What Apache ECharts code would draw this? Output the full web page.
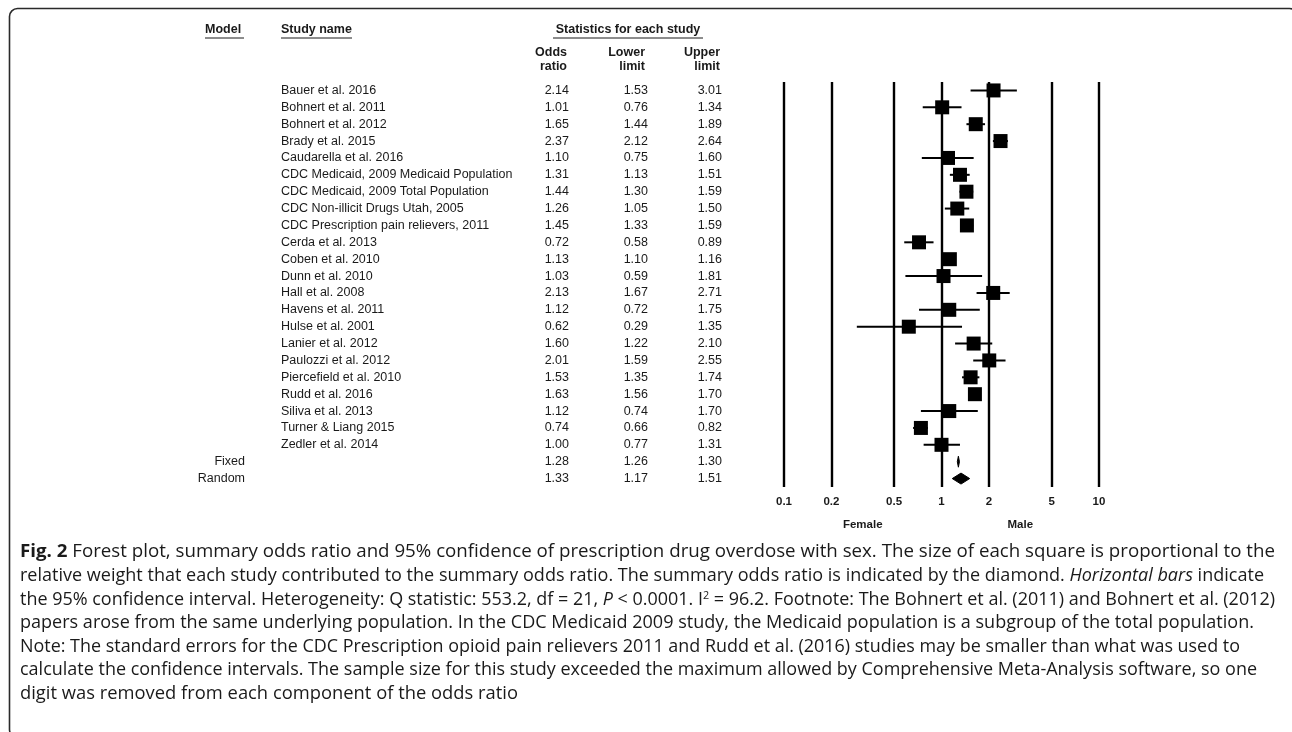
<!DOCTYPE html>
<html>
<head>
<meta charset="utf-8">
<script src="https://cdn.jsdelivr.net/npm/echarts@6/dist/echarts.min.js"></script>
<style>
  html, body { margin: 0; padding: 0; background: #fff; }
  #chart { width: 1292px; height: 732px; }
</style>
</head>
<body>
<div id="chart"></div>
<script>
// Study-level odds ratios (male vs female) with 95% confidence limits
const studies = [
  'Bauer et al. 2016',
  'Bohnert et al. 2011',
  'Bohnert et al. 2012',
  'Brady et al. 2015',
  'Caudarella et al. 2016',
  'CDC Medicaid, 2009 Medicaid Population',
  'CDC Medicaid, 2009 Total Population',
  'CDC Non-illicit Drugs Utah, 2005',
  'CDC Prescription pain relievers, 2011',
  'Cerda et al. 2013',
  'Coben et al. 2010',
  'Dunn et al. 2010',
  'Hall et al. 2008',
  'Havens et al. 2011',
  'Hulse et al. 2001',
  'Lanier et al. 2012',
  'Paulozzi et al. 2012',
  'Piercefield et al. 2010',
  'Rudd et al. 2016',
  'Siliva et al. 2013',
  'Turner & Liang 2015',
  'Zedler et al. 2014'
];
const oddsRatio  = [2.14, 1.01, 1.65, 2.37, 1.10, 1.31, 1.44, 1.26, 1.45, 0.72, 1.13, 1.03, 2.13, 1.12, 0.62, 1.60, 2.01, 1.53, 1.63, 1.12, 0.74, 1.00];
const lowerLimit = [1.53, 0.76, 1.44, 2.12, 0.75, 1.13, 1.30, 1.05, 1.33, 0.58, 1.10, 0.59, 1.67, 0.72, 0.29, 1.22, 1.59, 1.35, 1.56, 0.74, 0.66, 0.77];
const upperLimit = [3.01, 1.34, 1.89, 2.64, 1.60, 1.51, 1.59, 1.50, 1.59, 0.89, 1.16, 1.81, 2.71, 1.75, 1.35, 2.10, 2.55, 1.74, 1.70, 1.70, 0.82, 1.31];

// Pooled estimates
const summaryModels = ['Fixed', 'Random'];
const summaryOR     = [1.28, 1.33];
const summaryLower  = [1.26, 1.17];
const summaryUpper  = [1.30, 1.51];

// Odds-ratio scale reference lines and side captions
const axisTicks  = [0.1, 0.2, 0.5, 1, 2, 5, 10];
const sideLabels = ['Female', 'Male'];

// Figure caption, one entry per printed line
const captionLines = [
  '{b|Fig. 2} Forest plot, summary odds ratio and 95% confidence of prescription drug overdose with sex. The size of each square is proportional to the',
  'relative weight that each study contributed to the summary odds ratio. The summary odds ratio is indicated by the diamond. {i|Horizontal bars} indicate',
  'the 95% confidence interval. Heterogeneity: Q statistic: 553.2, df = 21, {i|P} < 0.0001. I{sup|2} = 96.2. Footnote: The Bohnert et al. (2011) and Bohnert et al. (2012)',
  'papers arose from the same underlying population. In the CDC Medicaid 2009 study, the Medicaid population is a subgroup of the total population.',
  'Note: The standard errors for the CDC Prescription opioid pain relievers 2011 and Rudd et al. (2016) studies may be smaller than what was used to',
  'calculate the confidence intervals. The sample size for this study exceeded the maximum allowed by Comprehensive Meta-Analysis software, so one',
  'digit was removed from each component of the odds ratio'
];

// ---- layout and styling ----
const TABLE_FONT = '"Liberation Sans", Arial, sans-serif';
const CAPTION_FONT = '"Open Sans", Lato, sans-serif';
const INK = '#1a1a1a';
const CAPTION_SIZE = 18.3;
const SUP_SIZE = 11;
const HEAD_SIZE = 12.5;
const CAPTION_LEFT = 20;
const CAPTION_TOP = 552;
const CAPTION_LEADING = 23.65;
// right edge of each printed caption line
const CAPTION_RIGHT = [1275, 1264, 1275, 1254, 1240, 1257, 518];

const rowNames = studies.concat(summaryModels);
const nStudies = studies.length;
const nRows = rowNames.length;
const orCol = oddsRatio.concat(summaryOR);
const loCol = lowerLimit.concat(summaryLower);
const hiCol = upperLimit.concat(summaryUpper);
const fmt = v => v.toFixed(2);

// Plot area (log odds-ratio scale)
const PLOT = { left: 784, top: 82, width: 315, height: 405 };

// Table columns are category axes sharing the plot's rows
function labelAxis(margin, align, formatter) {
  return {
    type: 'category',
    gridIndex: 0,
    data: rowNames,
    inverse: true,
    position: 'left',
    axisLine: { show: false },
    axisTick: { show: false },
    splitLine: { show: false },
    axisLabel: {
      interval: 0, margin, align, formatter,
      color: INK, fontFamily: TABLE_FONT, fontSize: 12.5
    }
  };
}

function txt(x, y, text, extra) {
  const style = Object.assign({
    text, fill: INK, fontFamily: TABLE_FONT, fontSize: HEAD_SIZE, fontWeight: 'bold',
    align: 'left', verticalAlign: 'middle'
  }, extra || {});
  style.textAlign = style.align;
  style.textVerticalAlign = style.verticalAlign;
  return { type: 'text', x, y, silent: true, style };
}
function hline(x1, x2, y, w) {
  return { type: 'line', silent: true, shape: { x1, y1: y, x2, y2: y }, style: { stroke: INK, lineWidth: w || 1 } };
}

const capRich = {
  b:   { fontFamily: CAPTION_FONT, fontSize: CAPTION_SIZE, fontWeight: 'bold', fill: INK, color: INK },
  i:   { fontFamily: CAPTION_FONT, fontSize: CAPTION_SIZE, fontStyle: 'italic', fill: INK, color: INK },
  sup: { fontFamily: CAPTION_FONT, fontSize: SUP_SIZE, fill: INK, color: INK, verticalAlign: 'top' }
};

// Width of a caption line with its styled runs, for fitting each line to its printed measure
const mctx = document.createElement('canvas').getContext('2d');
const runFonts = {
  '':  CAPTION_SIZE + 'px ' + CAPTION_FONT,
  b:   'bold ' + CAPTION_SIZE + 'px ' + CAPTION_FONT,
  i:   'italic ' + CAPTION_SIZE + 'px ' + CAPTION_FONT,
  sup: SUP_SIZE + 'px ' + CAPTION_FONT
};
function runWidth(text, key) { mctx.font = runFonts[key]; return mctx.measureText(text).width; }
function lineWidth(line) {
  const re = /\{(\w+)\|([^}]*)\}/g;
  let last = 0, m, w = 0;
  while ((m = re.exec(line))) {
    w += runWidth(line.slice(last, m.index), '');
    w += runWidth(m[2], m[1]);
    last = re.lastIndex;
  }
  return w + runWidth(line.slice(last), '');
}

const graphics = [
  // panel frame
  { type: 'rect', silent: true, shape: { x: 9.5, y: 8.5, width: 1288, height: 729, r: 8 },
    style: { fill: 'none', stroke: '#2a2a2a', lineWidth: 1.6 } },
  // column headers
  txt(205, 30, 'Model'), hline(205, 244, 38),
  txt(281, 30, 'Study name'), hline(281, 352, 38),
  txt(628, 30, 'Statistics for each study', { align: 'center' }), hline(553, 703, 38),
  txt(567, 53, 'Odds', { align: 'right' }), txt(567, 67, 'ratio', { align: 'right' }),
  txt(645, 53, 'Lower', { align: 'right' }), txt(645, 67, 'limit', { align: 'right' }),
  txt(720, 53, 'Upper', { align: 'right' }), txt(720, 67, 'limit', { align: 'right' }),
  // side captions under the scale
  txt(PLOT.left + PLOT.width * 0.25, 525, sideLabels[0], { align: 'center', fontSize: 11.5 }),
  txt(PLOT.left + PLOT.width * 0.75, 525, sideLabels[1], { align: 'center', fontSize: 11.5 })
];
captionLines.forEach((line, k) => {
  const natural = lineWidth(line);
  const sx = natural > 0 ? (CAPTION_RIGHT[k] - CAPTION_LEFT) / natural : 1;
  graphics.push({
    type: 'text', x: CAPTION_LEFT, y: CAPTION_TOP + k * CAPTION_LEADING, silent: true,
    scaleX: Math.max(0.9, Math.min(1.1, sx)),
    style: {
      text: line, rich: capRich, fill: INK,
      fontFamily: CAPTION_FONT, fontSize: CAPTION_SIZE,
      align: 'left', textAlign: 'left', verticalAlign: 'middle', textVerticalAlign: 'middle'
    }
  });
});

const option = {
  animation: false,
  backgroundColor: '#fff',
  grid: [{ left: PLOT.left, top: PLOT.top, width: PLOT.width, height: PLOT.height, containLabel: false }],
  xAxis: [{
    type: 'log', logBase: 10, min: 0.1, max: 10, gridIndex: 0,
    axisLine: { show: false }, axisTick: { show: false },
    axisLabel: { show: false }, splitLine: { show: false }
  }],
  yAxis: [
    // row position axis used by the marks
    {
      type: 'value', gridIndex: 0, inverse: true, min: -0.5, max: nRows - 0.5,
      show: false, splitLine: { show: false }
    },
    labelAxis(503, 'left',  (v, i) => i < nStudies ? v : ''),
    labelAxis(539, 'right', (v, i) => i >= nStudies ? v : ''),
    labelAxis(215, 'right', (v, i) => fmt(orCol[i])),
    labelAxis(136, 'right', (v, i) => fmt(loCol[i])),
    labelAxis(62,  'right', (v, i) => fmt(hiCol[i]))
  ],
  series: [
    {
      name: 'Studies',
      type: 'custom',
      xAxisIndex: 0, yAxisIndex: 0,
      data: studies.map((s, i) => [oddsRatio[i], lowerLimit[i], upperLimit[i], i]),
      encode: { x: [0, 1, 2], y: 3 },
      renderItem(params, api) {
        const row = api.value(3);
        const lo = api.coord([api.value(1), row]);
        const hi = api.coord([api.value(2), row]);
        const c = api.coord([api.value(0), row]);
        const s = 14;
        return {
          type: 'group',
          children: [
            { type: 'line', shape: { x1: lo[0], y1: lo[1], x2: hi[0], y2: hi[1] },
              style: { stroke: '#000', lineWidth: 2 } },
            { type: 'rect', shape: { x: c[0] - s / 2, y: c[1] - s / 2, width: s, height: s },
              style: { fill: '#000' } }
          ]
        };
      },
      markLine: {
        silent: true,
        symbol: 'none',
        animation: false,
        lineStyle: { color: '#000', width: 2.4, type: 'solid' },
        label: {
          show: true, position: 'end', distance: 9,
          formatter: p => String(p.value),
          color: INK, fontFamily: TABLE_FONT, fontSize: 11.5, fontWeight: 'bold'
        },
        emphasis: { disabled: true },
        data: axisTicks.map(v => ({ xAxis: v }))
      }
    },
    {
      name: 'Summary',
      type: 'custom',
      xAxisIndex: 0, yAxisIndex: 0,
      data: summaryModels.map((m, j) => [summaryOR[j], summaryLower[j], summaryUpper[j], nStudies + j]),
      encode: { x: [0, 1, 2], y: 3 },
      renderItem(params, api) {
        const row = api.value(3);
        const lo = api.coord([api.value(1), row]);
        const hi = api.coord([api.value(2), row]);
        const c = api.coord([api.value(0), row]);
        const h = 11;
        return {
          type: 'polygon',
          shape: { points: [[lo[0], c[1]], [c[0], c[1] - h / 2], [hi[0], c[1]], [c[0], c[1] + h / 2]] },
          style: { fill: '#000', stroke: '#000', lineWidth: 1 }
        };
      }
    }
  ],
  graphic: { elements: graphics }
};

const chart = echarts.init(document.getElementById('chart'), null, { renderer: 'canvas' });
chart.setOption(option);
</script>
</body>
</html>
